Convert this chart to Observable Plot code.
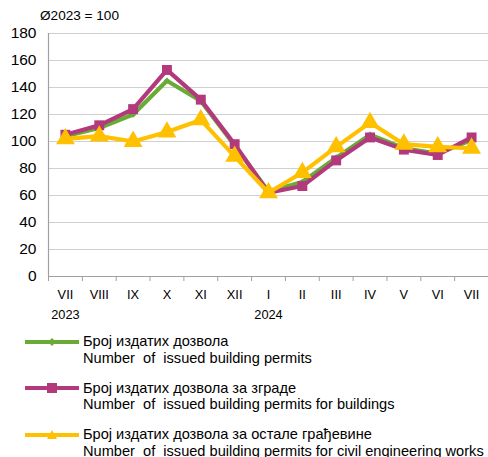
<!DOCTYPE html>
<html>
<head>
<meta charset="utf-8">
<script src="https://cdn.jsdelivr.net/npm/d3@7"></script>
<script src="https://cdn.jsdelivr.net/npm/@observablehq/plot@0.6"></script>
<style>
  body { margin: 0; background: #fff; font-family: "Liberation Sans", Arial, sans-serif; }
  #wrap { position: relative; width: 488px; }
  #ylab { position: absolute; left: 40px; top: 8px; font-size: 13.6px; line-height: 16px; color: #000; }
  .legend { margin-left: 25px; margin-top: 5px; }
  .row { display: flex; align-items: flex-start; margin-bottom: 13.5px; }
  .row svg { flex: none; margin-top: 3.5px; margin-right: 4px; }
  .row .txt { font-size: 14.6px; line-height: 16.5px; color: #000; white-space: pre; }
</style>
</head>
<body>
<div id="wrap">
  <div id="ylab">Ø2023 = 100</div>
  <div id="chart"></div>
  <div class="legend" id="legend"></div>
</div>
<script>
const months = ["VII","VIII","IX","X","XI","XII","I","II","III","IV","V","VI","VII"];
const years = ["2023","","","","","","2024","","","","","",""];
const total = [104,110,120,145,130,97,63,70,88,105,95,91,101];
const buildings = [105,112,124,153,131,98,62,67,86,103,94,90,103];
const civil = [102,104,100,107,116,89,62,77,96,114,98,96,95];
const yTicks = [0,20,40,60,80,100,120,140,160,180];

const seriesNames = [
  ["Број издатих дозвола", "Number  of  issued building permits"],
  ["Број издатих дозвола за зграде", "Number  of  issued building permits for buildings"],
  ["Број издатих дозвола за остале грађевине", "Number  of  issued building permits for civil engineering works"]
];
const colors = ["#6aab35", "#b2397c", "#ffc000"];
const symbols = ["diamond2", "square", "triangle"];
const radii = [3, 5.6, 7];

const rows = months.map((m, i) => ({i: i + 0.5, m, yr: years[i]}));
const series = [total, buildings, civil].map((vals, k) =>
  vals.map((v, i) => ({x: i + 0.5, y: v, k})));

const marks = [
  Plot.gridY(yTicks, {stroke: "#d0d0d0", strokeOpacity: 1, strokeWidth: 1.2}),
  Plot.axisY({ticks: yTicks, tickSize: 0, tickPadding: 12, fontSize: 15.5, fill: "#000", label: null}),
  Plot.axisX({ticks: d3.range(months.length + 1), tickFormat: () => "", tickSize: 5, stroke: "#a0a0a0", label: null}),
  Plot.ruleX([0], {stroke: "#a0a0a0", strokeWidth: 1.2}),
  Plot.ruleY([0], {stroke: "#a0a0a0", strokeWidth: 1.2}),
  Plot.text(rows, {x: "i", text: "m", frameAnchor: "bottom", dy: 22, fontSize: 12.8, fill: "#000"}),
  Plot.text(rows, {x: "i", text: "yr", frameAnchor: "bottom", dy: 42, fontSize: 12.8, fill: "#000"})
];
series.forEach((data, k) => {
  marks.push(Plot.line(data, {x: "x", y: "y", stroke: colors[k], strokeWidth: 4.2}));
  marks.push(Plot.dot(data, {x: "x", y: "y", fill: colors[k], symbol: symbols[k], r: radii[k], stroke: null}));
});

const chart = Plot.plot({
  width: 488,
  height: 328,
  marginTop: 33,
  marginBottom: 52,
  marginLeft: 48,
  marginRight: 0,
  style: {fontFamily: "Liberation Sans, Arial, sans-serif", background: "#fff"},
  x: {type: "linear", domain: [0, months.length], axis: null},
  y: {domain: [0, 180], axis: null},
  marks
});
document.getElementById("chart").appendChild(chart);

const legend = document.getElementById("legend");
seriesNames.forEach((names, k) => {
  const row = document.createElement("div");
  row.className = "row";
  const shape = k === 0
    ? `<path d="M27,1 L31,5 L27,9 L23,5 Z" fill="${colors[k]}"/>`
    : k === 1
    ? `<rect x="22" y="0" width="10" height="10" fill="${colors[k]}"/>`
    : `<path d="M27,0 L32,9 L22,9 Z" fill="${colors[k]}"/>`;
  row.innerHTML = `<svg width="54" height="10"><line x1="0" y1="5" x2="54" y2="5" stroke="${colors[k]}" stroke-width="4"/>${shape}</svg><div class="txt">${names[0]}\n${names[1]}</div>`;
  legend.appendChild(row);
});
</script>
</body>
</html>
